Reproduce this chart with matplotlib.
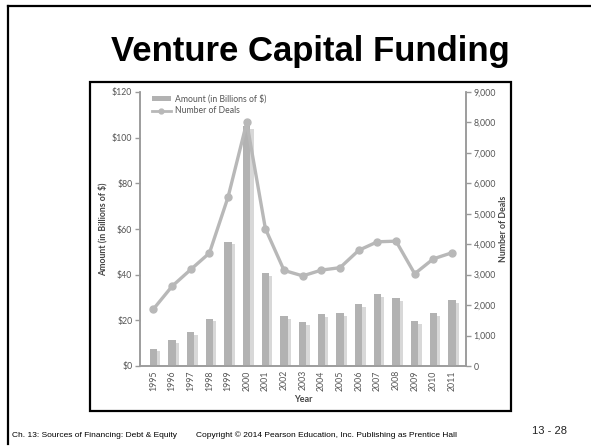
import matplotlib
matplotlib.use("Agg")
import matplotlib.pyplot as plt
from matplotlib.patches import Rectangle, Patch
from matplotlib.lines import Line2D
import numpy as np

years = ["1995", "1996", "1997", "1998", "1999", "2000", "2001", "2002", "2003",
         "2004", "2005", "2006", "2007", "2008", "2009", "2010", "2011"]
amount = [7.6, 11.2, 14.8, 20.8, 54.5, 105.0, 40.8, 21.7, 19.3, 22.8, 23.2,
          27.0, 31.6, 29.6, 19.6, 23.0, 28.9]
deals = [1870, 2620, 3170, 3710, 5550, 8000, 4510, 3140, 2960, 3150, 3230,
         3800, 4080, 4100, 3030, 3520, 3720]
left_ticks = [0, 20, 40, 60, 80, 100, 120]
left_labels = ["$0", "$20", "$40", "$60", "$80", "$100", "$120"]
right_ticks = [0, 1000, 2000, 3000, 4000, 5000, 6000, 7000, 8000, 9000]
right_labels = ["0", "1,000", "2,000", "3,000", "4,000", "5,000", "6,000",
                "7,000", "8,000", "9,000"]

W, H = 591, 446
fig = plt.figure(figsize=(W / 100, H / 100), dpi=100)
fig.patch.set_facecolor("white")

def fx(px):
    return px / W

def fy(py):
    return 1 - py / H

# slide borders
fig.add_artist(Line2D([fx(8), 1.0], [fy(6), fy(6)], color="black", lw=1.6))
fig.add_artist(Line2D([fx(8), fx(8)], [fy(6), fy(444)], color="black", lw=1.6))
# inner picture box
fig.add_artist(Rectangle((fx(90), fy(411)), fx(511) - fx(90), fy(82) - fy(411),
                         fill=False, edgecolor="black", lw=1.6))

fig.text(fx(310), fy(61), "Venture Capital Funding", ha="center", va="baseline",
         fontsize=25, fontweight="bold", family="Liberation Sans", color="black")

fig.text(fx(12), fy(437), "Ch. 13: Sources of Financing: Debt & Equity", ha="left",
         va="baseline", fontsize=6, family="Liberation Sans", color="black")
fig.text(fx(196), fy(437), "Copyright \u00a9 2014 Pearson Education, Inc. Publishing as Prentice Hall",
         ha="left", va="baseline", fontsize=6, family="Liberation Sans", color="black")
fig.text(fx(532), fy(434), "13 - 28", ha="left", va="baseline", fontsize=8,
         family="Liberation Sans", color="#222222")

ax = fig.add_axes([fx(140), fy(366), fx(466) - fx(140), fy(92) - fy(366)])
ax2 = ax.twinx()

x = np.arange(len(years))
main_w = 0.39
side_w = 0.18
main_c = "#b2b2b2"
side_c = "#d8d8d8"
line_c = "#b8b8b8"
spine_c = "#9a9a9a"
text_c = "#555555"
font = "Lato"

ax.bar(x + main_w / 2 + side_w / 2, np.array(amount) - 1.2, width=side_w,
       color=side_c, zorder=2)
ax.bar(x, amount, width=main_w, color=main_c, zorder=3)
ax2.plot(x, deals, color=line_c, lw=2.4, marker="o", markersize=5, zorder=4)

ax.set_xlim(-0.72, len(years) - 1 + 0.75)
ax.set_ylim(0, 120)
ax2.set_ylim(0, 9000)
ax.set_zorder(1)
ax2.set_zorder(2)
ax.patch.set_visible(False)

ax.set_xticks(x)
ax.set_xticklabels(years, rotation=90, fontsize=6.3, color=text_c, family=font)
ax.set_yticks(left_ticks)
ax.set_yticklabels(left_labels, fontsize=6.3, color=text_c, family=font)
ax2.set_yticks(right_ticks)
ax2.set_yticklabels(right_labels, fontsize=6.3, color=text_c, family=font)

ax.tick_params(axis="x", length=0, pad=3)
ax.tick_params(axis="y", length=3.5, width=1, color=spine_c, pad=2)
ax2.tick_params(axis="y", length=3.5, width=1, color=spine_c, pad=2)

for a in (ax, ax2):
    a.spines["top"].set_visible(False)
    for s in ("left", "right", "bottom"):
        a.spines[s].set_color(spine_c)
        a.spines[s].set_linewidth(1.1)

ax.set_ylabel("Amount (in Billions of $)", fontsize=6.3, color="#444444",
              family=font, fontweight="bold", labelpad=3)
ax2.set_ylabel("Number of Deals", fontsize=6.3, color="#444444", family=font,
               fontweight="bold", labelpad=2)
ax.set_xlabel("Year", fontsize=6.5, color="#444444", family=font,
              fontweight="bold", labelpad=3)

handles = [Patch(facecolor=main_c, edgecolor="none"),
           Line2D([0], [0], color=line_c, lw=2, marker="o", markersize=3.5)]
leg = ax2.legend(handles, ["Amount (in Billions of $)", "Number of Deals"],
                 loc="upper left", bbox_to_anchor=(0.02, 1.01), frameon=False,
                 handlelength=2.2, handleheight=0.5,
                 labelspacing=0.3, handletextpad=0.5, borderaxespad=0.2,
                 prop={"family": font, "size": 6.2})
for t in leg.get_texts():
    t.set_color(text_c)

fig.savefig("out.png", dpi=100, facecolor="white")
